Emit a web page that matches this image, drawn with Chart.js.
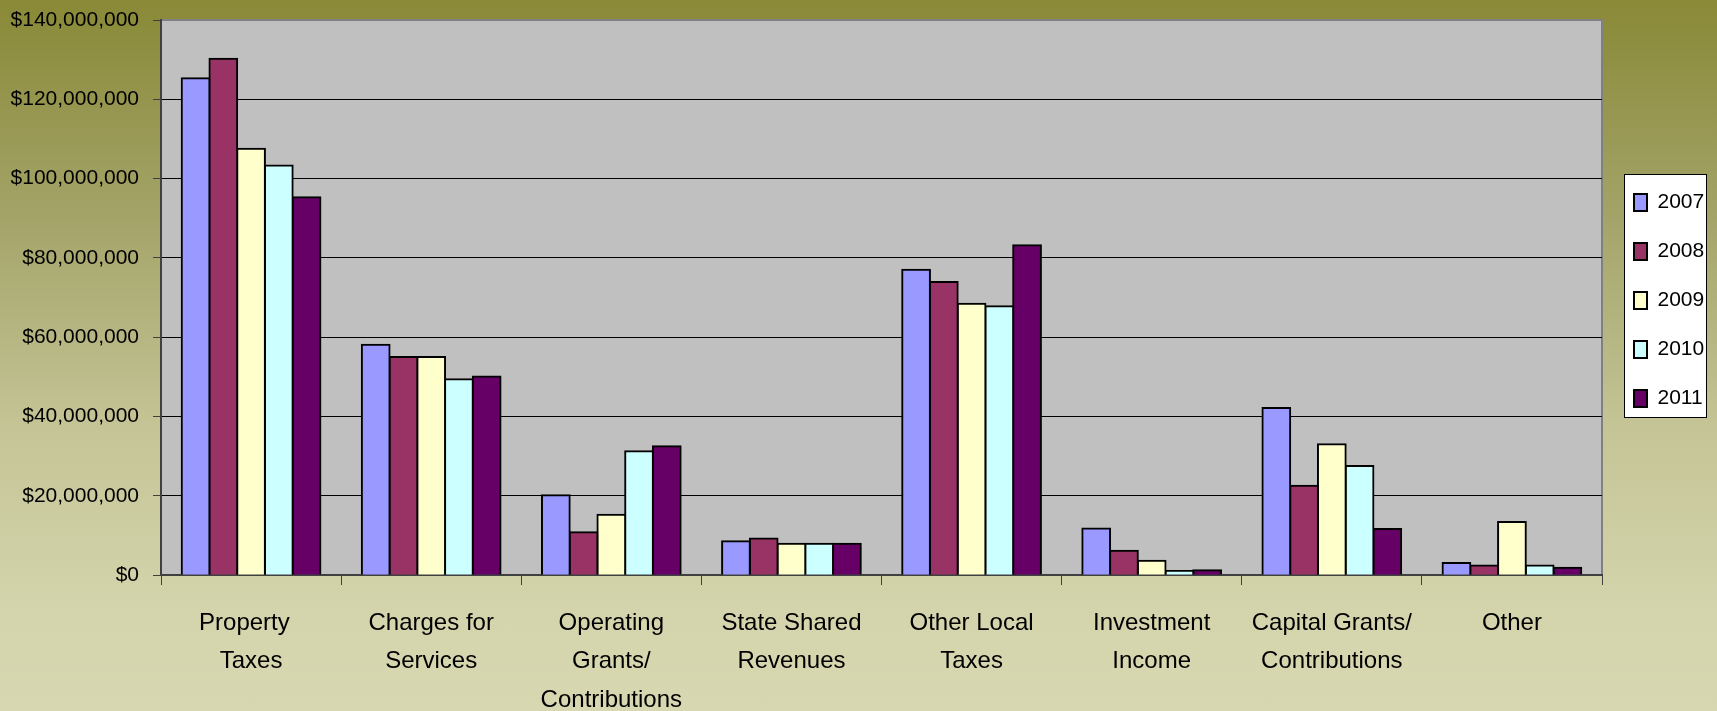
<!DOCTYPE html>
<html><head><meta charset="utf-8">
<script src="https://cdn.jsdelivr.net/npm/chart.js@4/dist/chart.umd.min.js"></script>
<style>
html,body{margin:0;padding:0;}
body{width:1717px;height:711px;overflow:hidden;background:linear-gradient(to bottom,#898937 0%,#a3a368 30%,#c4c496 60%,#d4d4ac 85%,#d7d7b1 100%);}
canvas{display:block;}
</style></head>
<body>
<canvas id="c" width="1717" height="711"></canvas>
<script>
const categories = [
  ['Property  ','Taxes'],
  ['Charges for','Services'],
  ['Operating','Grants/','Contributions'],
  ['State Shared','Revenues'],
  ['Other Local','Taxes'],
  ['Investment','Income'],
  ['Capital Grants/','Contributions'],
  ['Other']
];
const years = ['2007','2008','2009','2010','2011'];
const v2007 = [125300000, 58100000, 20100000, 8500000, 77000000, 11700000, 42100000, 3000000];
const v2008 = [130200000, 55000000, 10800000, 9200000, 73900000, 6100000, 22500000, 2400000];
const v2009 = [107500000, 55000000, 15200000, 7900000, 68400000, 3600000, 33000000, 13400000];
const v2010 = [103300000, 49400000, 31200000, 7900000, 67800000, 1000000, 27500000, 2400000];
const v2011 = [95300000, 50100000, 32500000, 7900000, 83200000, 1200000, 11600000, 1800000];
const yTickValues = [0, 20000000, 40000000, 60000000, 80000000, 100000000, 120000000, 140000000];
const seriesColors = ['#9999FF','#993366','#FFFFCC','#CCFFFF','#660066'];

const FONT = "'Liberation Sans', Arial, sans-serif";
const seriesValues = [v2007, v2008, v2009, v2010, v2011];

const decor = {
  id: 'decor',
  beforeLayout(chart) {
    const lg = chart.legend;
    if (lg && !lg._patched) {
      const f = lg.fit;
      lg.fit = function () { f.call(this); this.width = 115; };
      lg._patched = true;
    }
  },
  afterLayout(chart) {
    const lg = chart.legend;
    if (!lg) return;
    lg.left = 1606; lg.right = 1717;
    lg.top = 164; lg.bottom = 711;
    lg.width = lg.right - lg.left; lg.height = lg.bottom - lg.top;
  },
  beforeDraw(chart) {
    const {ctx, chartArea: a} = chart;
    ctx.save();
    ctx.fillStyle = '#C0C0C0';
    ctx.fillRect(a.left, a.top, a.right - a.left, a.bottom - a.top);
    ctx.strokeStyle = '#808080';
    ctx.lineWidth = 2;
    ctx.beginPath();
    ctx.moveTo(a.left, a.top); ctx.lineTo(a.right, a.top); ctx.lineTo(a.right, a.bottom);
    ctx.stroke();
    ctx.fillStyle = '#FFFFFF';
    ctx.fillRect(1624, 174, 82, 243);
    ctx.strokeStyle = '#000';
    ctx.lineWidth = 1;
    ctx.strokeRect(1624.5, 174.5, 82, 243);
    ctx.restore();
  }
};

new Chart(document.getElementById('c'), {
  type: 'bar',
  data: {
    labels: categories,
    datasets: years.map((y, i) => ({
      label: y,
      data: seriesValues[i],
      backgroundColor: seriesColors[i],
      borderColor: '#000',
      borderWidth: 2,
      inflateAmount: 1,
      categoryPercentage: 0.77,
      barPercentage: 1.0
    }))
  },
  options: {
    responsive: false,
    devicePixelRatio: 1,
    animation: false,
    layout: { padding: { top: 20, left: 0, right: 0, bottom: 0 } },
    plugins: {
      tooltip: { enabled: false },
      legend: {
        position: 'right',
        align: 'start',
        labels: {
          boxWidth: 13, boxHeight: 17, padding: 28, color: '#000',
          font: { family: FONT, size: 21 }
        }
      }
    },
    scales: {
      x: {
        grid: { offset: true, drawOnChartArea: false, drawTicks: true, tickLength: 10, color: '#404040', lineWidth: 1 },
        border: { color: '#404040', width: 2 },
        ticks: { color: '#000', padding: 19, maxRotation: 0, autoSkip: false, font: { family: FONT, size: 24, lineHeight: 1.6 } },
        afterFit(scale) { scale.height = 136; }
      },
      y: {
        min: 0, max: 140000000,
        afterBuildTicks(scale) { scale.ticks = yTickValues.map(v => ({ value: v })); },
        grid: {
          color: (c) => (c.tick && c.tick.value === 140000000) ? '#808080' : '#000',
          lineWidth: 1, tickLength: 8, tickColor: '#404040'
        },
        border: { color: '#404040', width: 2 },
        ticks: {
          color: '#000', padding: 14, autoSkip: false,
          font: { family: FONT, size: 21, lineHeight: 0.4 },
          callback: (v) => '$' + Number(v).toLocaleString('en-US')
        },
        afterFit(scale) { scale.width = 161; }
      }
    }
  },
  plugins: [decor]
});
</script>
</body></html>
